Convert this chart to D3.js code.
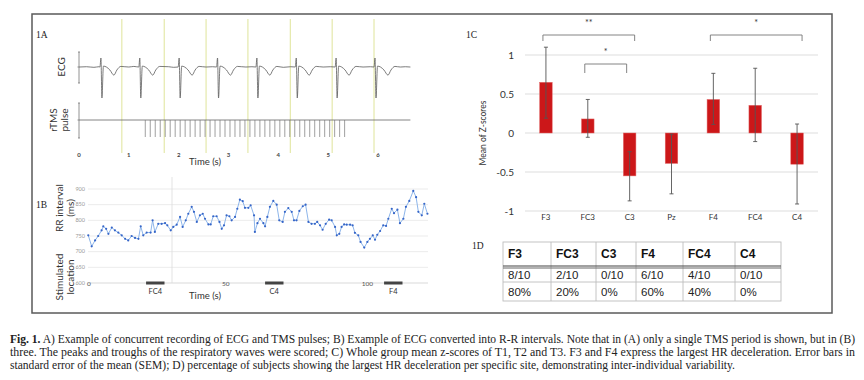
<!DOCTYPE html>
<html lang="en">
<head>
<meta charset="UTF-8">
<title>Fig. 1</title>
<style>
  body { margin: 0; background: #fff; }
  svg { display: block; }
</style>
</head>
<body>
<svg id="fig" width="864" height="380"></svg>
<script src="https://d3js.org/d3.v7.min.js"></script>
<script>
// ---- data ----
// 1A: ECG trace [time s, amplitude a.u.]
const ecgTrace = [
  [0.0,0],[0.15,0.01],[0.3,-0.01],[0.4,0.01],[0.42,0.0],
  [0.44,0.3],[0.46,-1.03],[0.49,0.03],[0.55,0.0],[0.62,-0.1],[0.7,-0.27],[0.76,-0.1],[0.84,0.02],[1.0,0.0],[1.1,0.02],[1.2,0.0],
  [1.22,0.3],[1.24,-1.03],[1.27,0.03],[1.33,0.0],[1.4,-0.1],[1.48,-0.27],[1.54,-0.1],[1.62,0.02],[1.8,0.01],[1.9,-0.01],[1.99,0.0],
  [2.01,0.3],[2.03,-1.03],[2.06,0.03],[2.12,0.0],[2.19,-0.1],[2.27,-0.27],[2.33,-0.1],[2.41,0.02],[2.55,0.0],[2.68,0.01],[2.76,0.0],
  [2.78,0.3],[2.8,-1.03],[2.83,0.03],[2.89,0.0],[2.96,-0.1],[3.04,-0.27],[3.1,-0.1],[3.18,0.02],[3.35,0.0],[3.47,0.01],[3.55,0.0],
  [3.57,0.3],[3.59,-1.03],[3.62,0.03],[3.68,0.0],[3.75,-0.1],[3.83,-0.27],[3.89,-0.1],[3.97,0.02],[4.1,-0.01],[4.25,0.01],[4.34,0.0],
  [4.36,0.3],[4.38,-1.03],[4.41,0.03],[4.47,0.0],[4.54,-0.1],[4.62,-0.27],[4.68,-0.1],[4.76,0.02],[4.9,0.0],[5.05,0.01],[5.14,0.0],
  [5.16,0.3],[5.18,-1.03],[5.21,0.03],[5.27,0.0],[5.34,-0.1],[5.42,-0.27],[5.48,-0.1],[5.56,0.02],[5.7,0.0],[5.85,0.01],[5.92,0.0],
  [5.94,0.3],[5.96,-1.03],[5.99,0.03],[6.05,0.0],[6.12,-0.1],[6.2,-0.27],[6.26,-0.1],[6.34,0.02],[6.45,0.0],[6.55,0.01],[6.65,0.0]
];
// 1A: rTMS pulse times (s)
const tmsPulses = [1.33,1.43,1.53,1.63,1.73,1.83,1.93,2.03,2.13,2.23,2.33,2.43,2.53,2.63,2.73,2.83,2.93,3.03,3.13,3.23,
  3.33,3.43,3.53,3.63,3.73,3.83,3.93,4.03,4.13,4.23,4.33,4.43,4.53,4.63,4.73,4.83,4.93,5.03,5.13,5.23,5.33];
// 1A: vertical marker lines (s)
const markerTimes = [0.86, 1.71, 2.55, 3.39, 4.24, 5.08, 5.92];
const ecgTicks = [0, 1, 2, 3, 4, 5, 6];

// 1B: R-R intervals [time s, ms]
const rrSeries = [
  [0.1,752],[1.3,717],[2.5,736],[3.6,750],[4.8,768],[5.4,781],[6.4,773],[7.2,757],[8.4,777],[9.5,768],
  [10.7,761],[11.9,752],[13.1,741],[14.2,736],[15.4,750],[16.6,744],[17.8,741],[18.6,781],[19.5,752],[20.7,761],
  [22.1,761],[22.8,800],[23.6,763],[24.8,789],[26.0,789],[27.2,791],[28.0,784],[29.2,768],[30.1,779],[31.3,786],
  [32.5,811],[33.4,779],[34.5,800],[35.4,821],[36.6,843],[37.4,827],[38.4,795],[39.5,816],[40.5,821],[41.3,805],
  [42.5,787],[43.3,787],[44.2,813],[45.4,813],[46.4,795],[47.2,773],[48.0,784],[48.9,816],[49.9,813],[50.7,800],
  [51.9,811],[52.7,837],[53.6,866],[54.6,861],[55.4,840],[56.6,840],[57.4,848],[58.6,816],[58.9,763],[59.8,791],
  [60.7,805],[61.9,791],[62.5,781],[63.3,811],[64.2,843],[65.4,862],[66.6,850],[67.5,800],[68.7,795],[69.5,827],
  [70.7,839],[71.9,827],[72.7,800],[73.6,800],[74.6,830],[75.8,845],[76.8,850],[77.8,795],[78.9,789],[80.1,789],
  [80.9,795],[81.9,784],[82.8,770],[83.9,789],[85.1,802],[86.0,800],[87.2,779],[87.8,752],[88.7,757],[89.5,779],
  [90.4,787],[91.3,786],[92.5,786],[93.4,784],[94.2,760],[95.4,752],[96.2,731],[97.5,713],[98.6,731],[99.5,741],
  [100.5,752],[101.3,738],[102.1,754],[103.1,766],[104.2,784],[105.2,782],[106.0,805],[107.2,837],[108.0,823],[109.2,834],
  [110.1,791],[111.3,805],[112.2,843],[113.4,862],[114.8,894],[115.8,874],[116.6,827],[117.8,816],[118.7,853],[119.8,821]
];
const rrTicks = [600, 650, 700, 750, 800, 850, 900];
const timeTicksB = [0, 50, 100];
// 1B: stimulation periods [site, start s, end s]
const stimSites = ["FC4", "C4", "F4"];
const stimStart = [20.5, 62.5, 104.5];
const stimEnd = [27.0, 69.0, 111.0];

// 1C: mean z-scores and SEM bar ends
const sites = ["F3", "FC3", "C3", "Pz", "F4", "FC4", "C4"];
const meanZ = [0.65, 0.18, -0.55, -0.39, 0.43, 0.355, -0.40];
const errHigh = [1.10, 0.43, -0.24, -0.015, 0.765, 0.83, 0.115];
const errLow = [0.19, -0.055, -0.87, -0.78, 0.11, -0.11, -0.91];
const zTicks = [-1, -0.5, 0, 0.5, 1];
const sigFrom = ["F3", "FC3", "F4"];
const sigTo = ["C3", "C3", "C4"];
const sigMark = ["**", "*", "*"];
const sigLevel = [0, 1, 0];

// 1D: table
const tableHead = ["F3", "FC3", "C3", "F4", "FC4", "C4"];
const tableCount = ["8/10", "2/10", "0/10", "6/10", "4/10", "0/10"];
const tablePct = ["80%", "20%", "0%", "60%", "40%", "0%"];

const captionLines = [
  ["Fig. 1.", " A) Example of concurrent recording of ECG and TMS pulses; B) Example of ECG converted into R-R intervals. Note that in (A) only a single TMS period is shown, but in (B)"],
  ["", "three. The peaks and troughs of the respiratory waves were scored; C) Whole group mean z-scores of T1, T2 and T3. F3 and F4 express the largest HR deceleration. Error bars in"],
  ["", "standard error of the mean (SEM); D) percentage of subjects showing the largest HR deceleration per specific site, demonstrating inter-individual variability."]
];

// ---- drawing ----
const svg = d3.select("#fig");
const sans = "Lato, 'Open Sans', sans-serif";
const serif = "'Liberation Serif', 'DejaVu Serif', serif";

svg.append("rect").attr("x", 32).attr("y", 14).attr("width", 800).attr("height", 299)
  .attr("fill", "none").attr("stroke", "#5a5a5a").attr("stroke-width", 1.5);

function panelLabel(t, x, y) {
  svg.append("text").attr("x", x).attr("y", y).text(t)
    .attr("font-family", serif).attr("font-size", 9.5).attr("fill", "#222");
}
function vLabel(lines, x, y, size, gap) {
  const t = svg.append("text").attr("transform", `translate(${x},${y}) rotate(-90)`)
    .attr("text-anchor", "middle").attr("font-family", sans).attr("font-size", size).attr("fill", "#333");
  lines.forEach((l, i) => t.append("tspan").attr("x", 0).attr("y", i * gap).text(l));
}

// ===== 1A =====
panelLabel("1A", 36, 38);
const xA = d3.scaleLinear().domain([0, 6]).range([79, 378]);
const yEcg = d3.scaleLinear().domain([-1.03, 0.3]).range([98, 58]);
const yTms = d3.scaleLinear().domain([0, 1]).range([120, 137]);

svg.append("g").selectAll("line").data(markerTimes).join("line")
  .attr("x1", d => xA(d)).attr("x2", d => xA(d)).attr("y1", 19).attr("y2", 153)
  .attr("stroke", "#dfe49a").attr("stroke-width", 1);

// small axes
[[52, 67, 83], [103, 120, 138]].forEach(([a, m, b]) => {
  svg.append("line").attr("x1", 79).attr("x2", 79).attr("y1", a).attr("y2", b).attr("stroke", "#777").attr("stroke-width", 0.8);
  [a, b].forEach(yy => svg.append("line").attr("x1", 78).attr("x2", 80).attr("y1", yy).attr("y2", yy).attr("stroke", "#777").attr("stroke-width", 0.8));
  svg.append("line").attr("x1", 77.5).attr("x2", 79).attr("y1", m).attr("y2", m).attr("stroke", "#777").attr("stroke-width", 0.8);
});

svg.append("path").datum(ecgTrace)
  .attr("d", d3.line().x(d => xA(d[0])).y(d => yEcg(d[1])).curve(d3.curveMonotoneX))
  .attr("fill", "none").attr("stroke", "#5a5a5a").attr("stroke-width", 0.8);

svg.append("line").attr("x1", xA(0)).attr("x2", xA(6.65)).attr("y1", yTms(0)).attr("y2", yTms(0))
  .attr("stroke", "#666").attr("stroke-width", 0.8);
svg.append("g").selectAll("line").data(tmsPulses).join("line")
  .attr("x1", d => xA(d)).attr("x2", d => xA(d)).attr("y1", yTms(0)).attr("y2", yTms(1))
  .attr("stroke", "#777").attr("stroke-width", 0.7);

svg.append("g").selectAll("text").data(ecgTicks).join("text")
  .attr("x", d => xA(d)).attr("y", 157).attr("text-anchor", "middle").text(d => d)
  .attr("font-family", sans).attr("font-size", 6).attr("font-weight", "bold").attr("fill", "#444");
svg.append("text").attr("x", 205).attr("y", 165).attr("text-anchor", "middle").text("Time (s)")
  .attr("font-family", sans).attr("font-size", 9.5).attr("fill", "#333");
vLabel(["ECG"], 65, 67, 10, 0);
vLabel(["rTMS", "pulse"], 57, 120, 10, 11);

// ===== 1B =====
panelLabel("1B", 36, 208);
const xB = d3.scaleLinear().domain([0, 120]).range([88, 428]);
const yB = d3.scaleLinear().domain([600, 900]).range([283, 189]);

svg.append("g").selectAll("line").data(rrTicks).join("line")
  .attr("x1", 88).attr("x2", 428).attr("y1", d => yB(d)).attr("y2", d => yB(d))
  .attr("stroke", d => d === 600 ? "#cfcfcf" : "#e6e6e6").attr("stroke-width", 0.8);
svg.append("line").attr("x1", 172).attr("x2", 172).attr("y1", 177).attr("y2", 283)
  .attr("stroke", "#dcdcdc").attr("stroke-width", 0.8);
svg.append("g").selectAll("text").data(rrTicks).join("text")
  .attr("x", 85).attr("y", d => yB(d) + 1.8).attr("text-anchor", "end").text(d => d)
  .attr("font-family", sans).attr("font-size", 5.5).attr("fill", "#999");

svg.append("g").selectAll("rect").data(stimSites).join("rect")
  .attr("x", (d, i) => xB(stimStart[i])).attr("width", (d, i) => xB(stimEnd[i]) - xB(stimStart[i]))
  .attr("y", 281.5).attr("height", 3).attr("fill", "#444");
svg.append("g").selectAll("text").data(stimSites).join("text")
  .attr("x", (d, i) => xB((stimStart[i] + stimEnd[i]) / 2)).attr("y", 294).attr("text-anchor", "middle").text(d => d)
  .attr("font-family", sans).attr("font-size", 7.5).attr("fill", "#333");
svg.append("g").selectAll("text").data(timeTicksB).join("text")
  .attr("x", d => xB(d) + (d === 0 ? 1 : -4)).attr("y", 285.5).attr("text-anchor", "middle").text(d => d)
  .attr("font-family", sans).attr("font-size", 6.5).attr("fill", "#555");

svg.append("path").datum(rrSeries)
  .attr("d", d3.line().x(d => xB(d[0])).y(d => yB(d[1])))
  .attr("fill", "none").attr("stroke", "#8db5ea").attr("stroke-width", 1);
svg.append("g").selectAll("circle").data(rrSeries).join("circle")
  .attr("cx", d => xB(d[0])).attr("cy", d => yB(d[1])).attr("r", 1.1).attr("fill", "#3565c8");

svg.append("text").attr("x", 205).attr("y", 299).attr("text-anchor", "middle").text("Time (s)")
  .attr("font-family", sans).attr("font-size", 9.5).attr("fill", "#333");
vLabel(["RR interval", "(ms)"], 63, 208, 10, 10.5);
vLabel(["Stimulated", "location"], 63, 277, 10, 10.5);

// ===== 1C =====
panelLabel("1C", 466, 38);
const xC = d3.scaleBand().domain(sites).range([525, 818]).paddingInner(0.7).paddingOuter(0.35);
const yC = d3.scaleLinear().domain([-1, 1]).range([211, 55]);
const bw = xC.bandwidth();
const cx = s => xC(s) + bw / 2;

svg.append("g").selectAll("line").data(zTicks).join("line")
  .attr("x1", 525).attr("x2", 818).attr("y1", d => yC(d)).attr("y2", d => yC(d))
  .attr("stroke", "#d9d9d9").attr("stroke-width", 0.9);
svg.append("g").selectAll("text").data(zTicks).join("text")
  .attr("x", 514).attr("y", d => yC(d) + 3.5).attr("text-anchor", "end").text(d => d)
  .attr("font-family", sans).attr("font-size", 10).attr("fill", "#333");

svg.append("g").selectAll("rect").data(sites).join("rect")
  .attr("x", d => xC(d)).attr("width", bw)
  .attr("y", (d, i) => yC(Math.max(0, meanZ[i])))
  .attr("height", (d, i) => Math.abs(yC(meanZ[i]) - yC(0)))
  .attr("fill", "#cc1719").attr("stroke", "#e26a6a").attr("stroke-width", 0.5);

const eb = svg.append("g").attr("stroke", "#555").attr("stroke-width", 0.9);
eb.selectAll(".v").data(sites).join("line").attr("class", "v")
  .attr("x1", d => cx(d)).attr("x2", d => cx(d))
  .attr("y1", (d, i) => yC(errHigh[i])).attr("y2", (d, i) => yC(errLow[i]));
eb.selectAll(".h").data(sites).join("line").attr("class", "h")
  .attr("x1", d => cx(d) - 2).attr("x2", d => cx(d) + 2)
  .attr("y1", (d, i) => yC(errHigh[i])).attr("y2", (d, i) => yC(errHigh[i]));
eb.selectAll(".l").data(sites).join("line").attr("class", "l")
  .attr("x1", d => cx(d) - 2).attr("x2", d => cx(d) + 2)
  .attr("y1", (d, i) => yC(errLow[i])).attr("y2", (d, i) => yC(errLow[i]));

svg.append("g").selectAll("text").data(sites).join("text")
  .attr("x", d => cx(d)).attr("y", 220).attr("text-anchor", "middle").text(d => d)
  .attr("font-family", sans).attr("font-size", 8).attr("fill", "#333");
vLabel(["Mean of Z-scores"], 486, 133, 8.5, 0);

const levelY = [35, 64];
sigMark.forEach((m, i) => {
  const x1 = cx(sigFrom[i]) - 3, x2 = cx(sigTo[i]) + (sigLevel[i] ? -3 : 5), y = levelY[sigLevel[i]];
  const drop = sigLevel[i] ? 9 : 6;
  svg.append("path").attr("d", `M${x1},${y + drop}V${y}H${x2}V${y + drop}`)
    .attr("fill", "none").attr("stroke", "#777").attr("stroke-width", 0.9);
  svg.append("text").attr("x", (x1 + x2) / 2).attr("y", y - 9).attr("text-anchor", "middle").text(m)
    .attr("font-family", sans).attr("font-size", 9).attr("fill", "#333");
});

// ===== 1D =====
panelLabel("1D", 472, 249);
const colEdges = [503, 551, 596, 636, 683, 735, 781];
const tbl = svg.append("g");
tbl.append("rect").attr("x", 503).attr("y", 242).attr("width", 278).attr("height", 59)
  .attr("fill", "none").attr("stroke", "#bdbdbd").attr("stroke-width", 0.9);
tbl.selectAll(".col").data(colEdges.slice(1, -1)).join("line").attr("class", "col")
  .attr("x1", d => d).attr("x2", d => d).attr("y1", 242).attr("y2", 301)
  .attr("stroke", "#bdbdbd").attr("stroke-width", 0.9);
tbl.append("line").attr("x1", 503).attr("x2", 781).attr("y1", 282).attr("y2", 282)
  .attr("stroke", "#bdbdbd").attr("stroke-width", 0.9);
tbl.append("line").attr("x1", 503).attr("x2", 781).attr("y1", 266).attr("y2", 266)
  .attr("stroke", "#444").attr("stroke-width", 1.2);
tbl.append("line").attr("x1", 503).attr("x2", 781).attr("y1", 268).attr("y2", 268)
  .attr("stroke", "#666").attr("stroke-width", 1);
const tx = (d, i) => colEdges[i] + 5;
tbl.selectAll(".hd").data(tableHead).join("text").attr("class", "hd")
  .attr("x", tx).attr("y", 258).text(d => d)
  .attr("font-family", "'Liberation Sans', Arial, sans-serif").attr("font-size", 12).attr("font-weight", "bold").attr("fill", "#111");
tbl.selectAll(".c1").data(tableCount).join("text").attr("class", "c1")
  .attr("x", tx).attr("y", 279).text(d => d)
  .attr("font-family", "'Liberation Sans', Arial, sans-serif").attr("font-size", 11.5).attr("fill", "#222");
tbl.selectAll(".c2").data(tablePct).join("text").attr("class", "c2")
  .attr("x", tx).attr("y", 296).text(d => d)
  .attr("font-family", "'Liberation Sans', Arial, sans-serif").attr("font-size", 11.5).attr("fill", "#222");

// ===== caption =====
const capY = [343, 356, 369];
const capLen = [845, 845, 725];
captionLines.forEach((parts, i) => {
  const t = svg.append("text").attr("x", 10).attr("y", capY[i])
    .attr("font-family", serif).attr("font-size", 11.5).attr("fill", "#222")
    .attr("textLength", capLen[i]).attr("lengthAdjust", "spacingAndGlyphs");
  if (parts[0]) t.append("tspan").attr("font-weight", "bold").text(parts[0]);
  t.append("tspan").text(parts[1]);
});
</script>
</body>
</html>
